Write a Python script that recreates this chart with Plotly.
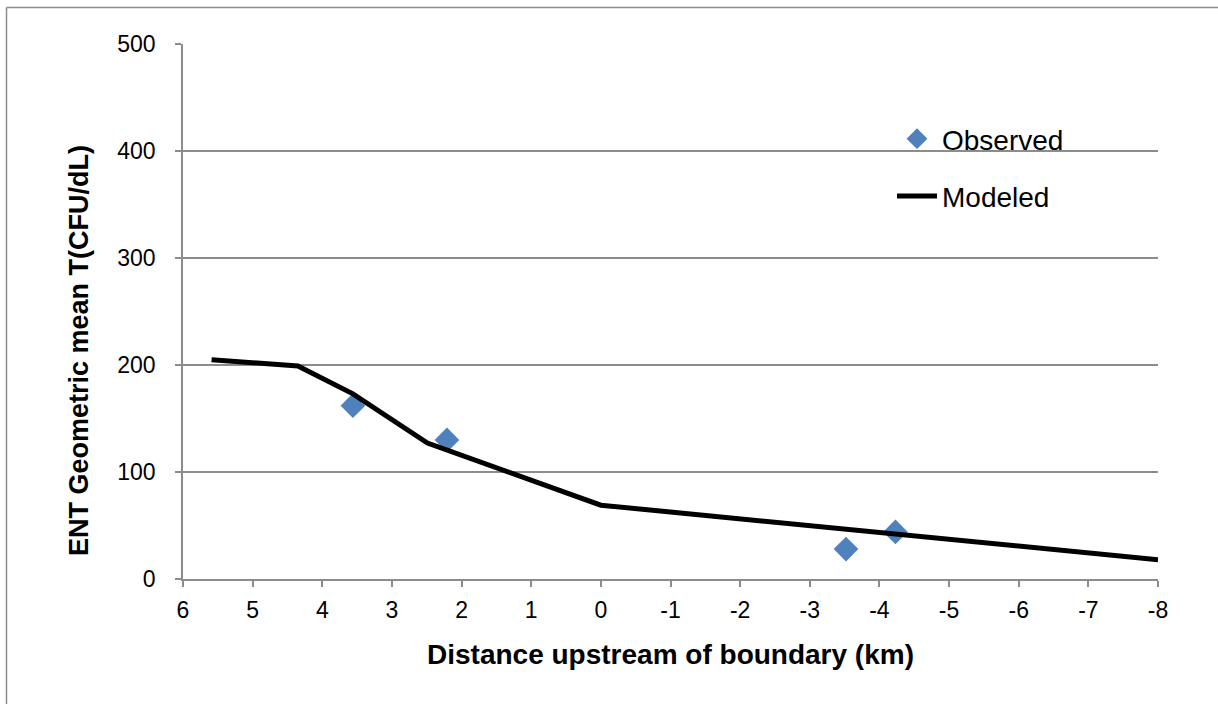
import plotly.graph_objects as go

# Data
obs_x = [3.56, 2.21, -3.52, -4.23]
obs_y = [162, 130, 28, 44]
mod_x = [5.59, 4.35, 3.56, 2.49, 0.0, -8.0]
mod_y = [205, 199, 173, 127, 69, 18]
x_ticks = [6, 5, 4, 3, 2, 1, 0, -1, -2, -3, -4, -5, -6, -7, -8]
y_ticks = [0, 100, 200, 300, 400, 500]

W, H = 1218, 704
L, R, T, B = 183, 60, 44, 125
pw, ph = W - L - R, H - T - B

def px(xp):
    return (xp - L) / pw

def py(yp):
    return (H - B - yp) / ph

font = "Liberation Sans"
grid = "#8c8c8c"

fig = go.Figure()
fig.add_trace(go.Scatter(
    x=obs_x, y=obs_y, mode="markers", name="Observed",
    marker=dict(symbol="diamond", size=19, color="#4F81BD"),
    legendgroup="a",
))
fig.add_trace(go.Scatter(
    x=mod_x, y=mod_y, mode="lines", name="Modeled",
    line=dict(color="black", width=5),
    legendgroup="b",
))

fig.update_layout(
    width=W, height=H,
    margin=dict(l=L, r=R, t=T, b=B),
    paper_bgcolor="white", plot_bgcolor="white",
    font=dict(family=font, size=22, color="black"),
    showlegend=True,
    legend=dict(
        x=px(892), y=py(114), xanchor="left", yanchor="top",
        font=dict(size=28, color="black"),
        tracegroupgap=18, bgcolor="rgba(0,0,0,0)",
        itemwidth=40,
    ),
    xaxis=dict(
        range=[6, -8], tickvals=x_ticks, ticktext=[str(v) for v in x_ticks],
        showgrid=False, zeroline=False,
        showline=True, linecolor=grid, linewidth=1.5,
        ticks="outside", ticklen=6, tickcolor=grid, tickwidth=1.5,
        tickfont=dict(size=23), ticklabelstandoff=4,
        title=dict(text="<b>Distance upstream of boundary (km)</b>",
                   font=dict(size=28), standoff=22),
    ),
    yaxis=dict(
        range=[0, 500], tickvals=y_ticks, ticktext=[str(v) for v in y_ticks],
        showgrid=True, gridcolor=grid, gridwidth=1.5, zeroline=False,
        showline=True, linecolor=grid, linewidth=1.5,
        ticks="outside", ticklen=6, tickcolor=grid, tickwidth=1.5,
        tickfont=dict(size=23), ticklabelstandoff=15,
    ),
    annotations=[
        dict(text="<b>ENT Geometric mean T(CFU/dL)</b>", textangle=-90,
             xref="paper", yref="paper", x=px(79), y=py(351),
             xanchor="center", yanchor="middle", showarrow=False,
             font=dict(size=27, color="black")),
    ],
    shapes=[
        dict(type="line", xref="paper", yref="paper",
             x0=px(6.5), x1=px(W), y0=py(7.5), y1=py(7.5),
             line=dict(color="#8c8c8c", width=1.5)),
        dict(type="line", xref="paper", yref="paper",
             x0=px(6.5), x1=px(6.5), y0=py(7.5), y1=py(H),
             line=dict(color="#8c8c8c", width=1.5)),
    ],
)

fig.write_html("out.html", config={"displayModeBar": False},
               post_script="document.body.style.margin='0';")
